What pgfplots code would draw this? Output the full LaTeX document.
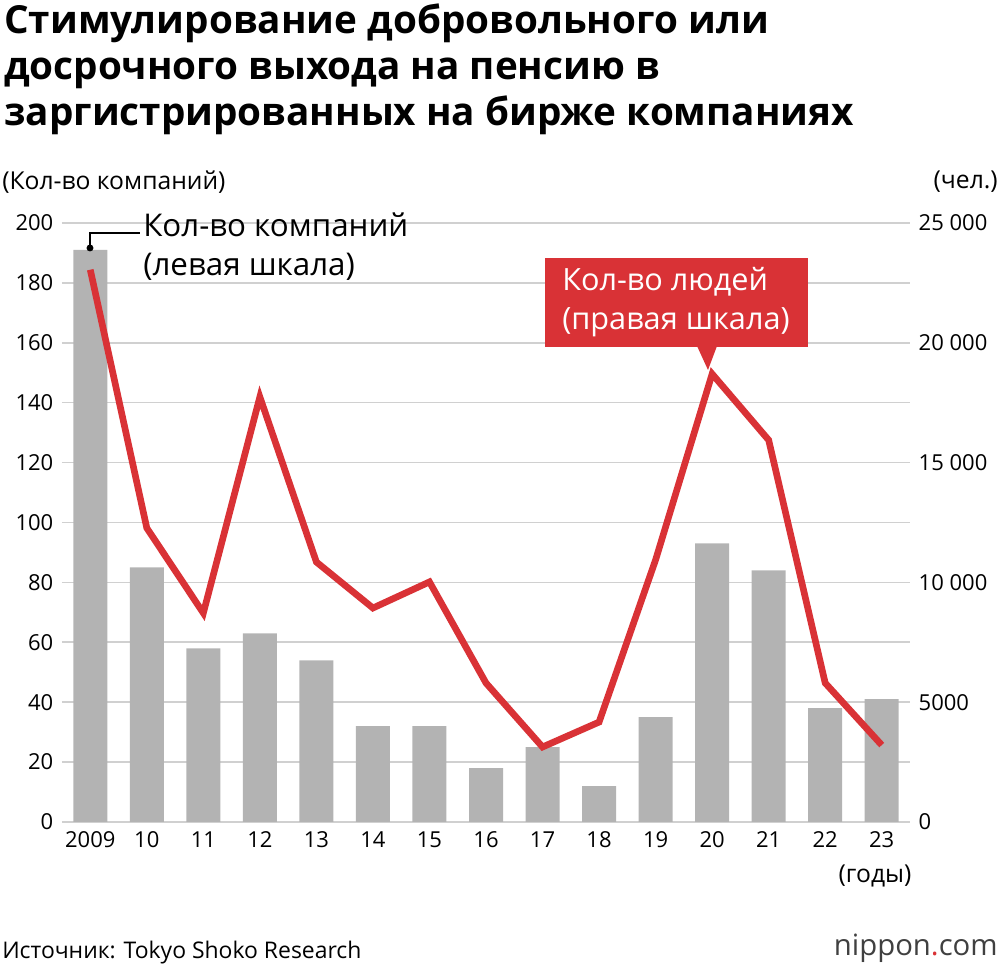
\documentclass[border=0pt]{standalone}
\usepackage{pgfplots}
\pgfplotsset{compat=1.18}
\usepackage{fontspec}
\setmainfont{Open Sans}
\definecolor{barg}{HTML}{B3B3B3}
\definecolor{myred}{HTML}{D93236}
\definecolor{gridg}{HTML}{D0D0D0}
\begin{document}
\begin{tikzpicture}
\path (0,0) rectangle (750pt,727.5pt);
\begin{axis}[at={(46.5pt,111pt)},anchor=south west,scale only axis,width=636pt,height=449.25pt,
 xmin=-0.5,xmax=14.5,ymin=0,ymax=200,axis line style={draw=none},
 ytick={0,20,...,200},ymajorgrids,grid style={gridg,line width=1.2pt},
 xtick={0,...,14},xticklabels={2009,10,11,12,13,14,15,16,17,18,19,20,21,22,23},
 major tick length=0pt,tick label style={font=\fontsize{16.5}{16.5}\selectfont},
 /pgf/number format/assume math mode=true,
 yticklabel style={xshift=-3pt},xticklabel style={yshift=-4pt}]
\addplot[ybar,bar width=25.5pt,fill=barg,draw=none] coordinates {(0,191)(1,85)(2,58)(3,63)(4,54)(5,32)(6,32)(7,18)(8,25)(9,12)(10,35)(11,93)(12,84)(13,38)(14,41)};
\end{axis}
\begin{axis}[at={(46.5pt,111pt)},anchor=south west,scale only axis,width=636pt,height=449.25pt,
 xmin=-0.5,xmax=14.5,ymin=0,ymax=25000,axis line style={draw=none},axis y line*=right,
 scaled y ticks=false,
 xtick=\empty,ytick={0,5000,10000,15000,20000,25000},yticklabels={0,5000,10 000,15 000,20 000,25 000},
 major tick length=0pt,tick label style={font=\fontsize{16.5}{16.5}\selectfont},
 /pgf/number format/assume math mode=true,
 yticklabel style={xshift=3pt}]
\addplot[myred,line width=5pt,line join=miter,mark=none] coordinates {(0,23050)(1,12270)(2,8720)(3,17740)(4,10850)(5,8930)(6,10020)(7,5800)(8,3130)(9,4170)(10,10940)(11,18700)(12,15940)(13,5800)(14,3210)};
\end{axis}
\node[anchor=north west,align=left,font=\fontsize{29}{34.5}\selectfont\bfseries,inner sep=0] at (3pt,724.5pt) {Стимулирование добровольного или\\досрочного выхода на пенсию в\\заргистрированных на бирже компаниях};
\node[anchor=west,font=\fontsize{18.5}{20}\selectfont,inner sep=0] at (1.5pt,591pt) {(Кол-во компаний)};
\node[anchor=east,font=\fontsize{18.5}{20}\selectfont,inner sep=0] at (748.5pt,591pt) {(чел.)};
\node[anchor=north,font=\fontsize{18.5}{20}\selectfont,inner sep=0] at (656.25pt,79pt) {(годы)};
\fill (67.5pt,541.5pt) circle (2.6pt);
\draw[line width=1pt] (67.5pt,541.5pt) -- (67.5pt,552.75pt) -- (105pt,552.75pt);
\node[anchor=north west,align=left,font=\fontsize{23.5}{29}\selectfont,inner sep=0] at (107.25pt,568pt) {Кол-во компаний\\(левая шкала)};
\fill[myred] (408.75pt,534pt) rectangle (606pt,467.25pt);
\fill[myred] (522.75pt,468pt) -- (537.75pt,468pt) -- (531pt,450pt) -- cycle;
\node[align=left,text=white,font=\fontsize{23}{29}\selectfont,inner sep=0] at (507pt,501pt) {Кол-во людей\\(правая шкала)};
\node[anchor=west,font=\fontsize{17.2}{18}\selectfont,inner sep=0] at (1.5pt,12.75pt) {Источник: Tokyo Shoko Research};
\node[anchor=east,font=\fontsize{22}{24}\selectfont,inner sep=0] at (748.5pt,16.5pt) {\textcolor{black!75}{nippon}\textcolor{myred}{.}\textcolor{black!75}{com}};
\end{tikzpicture}
\end{document}
